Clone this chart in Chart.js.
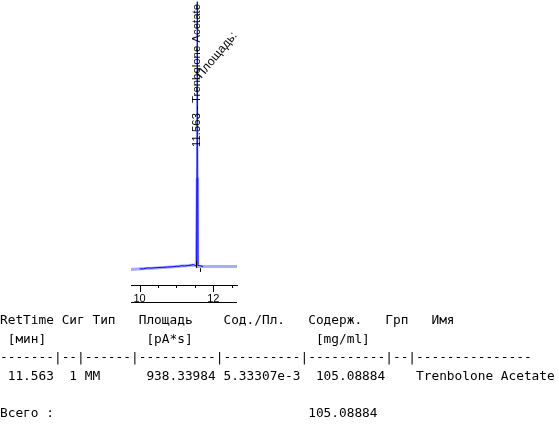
<!DOCTYPE html>
<html><head><meta charset="utf-8">
<script src="https://cdn.jsdelivr.net/npm/chart.js@4"></script>
<style>
html,body{margin:0;padding:0;background:#fff;width:559px;height:425px;overflow:hidden;}
#c{position:absolute;left:0;top:0;}
#tbl{position:absolute;left:0;top:311px;margin:0;font-family:"DejaVu Sans Mono",monospace;font-size:12.8px;line-height:18.6px;color:#000;white-space:pre;}
</style></head><body>
<canvas id="c" width="559" height="425"></canvas>
<pre id="tbl"></pre>
<script>
// ---- axis ----
const xMin = 9.767, xMax = 12.643;
const xTickLabels = ['10', '12'];
const yMin = 0, yMax = 170;

// ---- signal (light trace, full range) ----
const lightTimes  = [9.767, 9.95, 10.15, 10.35, 10.55, 10.75, 10.95, 11.15, 11.35, 11.48, 11.54, 11.553, 11.564, 11.575, 11.6, 11.7, 12.0, 12.3, 12.643];
const lightValues = [9.3,   9.5,  9.8,   10.0,  10.3,  10.6,  10.9,  11.3,  11.6,  11.9,  11.4,  11.4,   64,     11.0,   11.0, 11.0, 11.0, 11.0, 11.0];

// ---- signal (dark trace) ----
const darkTimes  = [10.0, 10.1, 10.15, 10.22, 10.3, 10.45, 10.6, 10.75, 10.9, 11.0, 11.05, 11.15, 11.22, 11.3, 11.4, 11.47, 11.52, 11.548, 11.566, 11.585, 11.63, 11.72];
const darkValues = [9.6,  9.6,  9.9,   10.2,  10.1, 10.3,  10.5, 10.7,  10.9, 11.2, 11.1,  11.5,  11.3,  11.6, 11.9, 12.1,  11.6,  11.6,   169,    11.6,   11.6,  11.0];

// ---- integration baseline & marks ----
const baseTimes  = [11.54, 11.6];
const baseValues = [10.8, 10.8];
const markTimes  = [11.52, 11.64];
const markFrom   = [10.2, 10.0];
const markTo     = [14.3, 7.8];

// ---- peak annotation ----
const peakTime = 11.563;
const peakName = 'Trenbolone Acetate';
const peakLabelAt = 82.3;
const areaLabel = 'Площадь:';
const areaLabelAt = 122.9;

// ---- report table ----
const tableLines = [
  'RetTime Сиг Тип   Площадь    Сод./Пл.   Содерж.   Грп   Имя',
  ' [мин]             [pA*s]                [mg/ml]',
  '-------|--|------|----------|----------|----------|--|---------------',
  ' 11.563  1 MM      938.33984 5.33307e-3  105.08884    Trenbolone Acetate',
  '',
  'Всего :                                 105.08884'
];
document.getElementById('tbl').textContent = tableLines.join('\n');

const pts = (xs, ys) => xs.map((x, i) => ({x: x, y: ys[i]}));

const decor = {
  id: 'decor',
  afterDraw(chart) {
    const ctx = chart.ctx, xs = chart.scales.x, ys = chart.scales.y;
    ctx.save();
    ctx.strokeStyle = '#000'; ctx.lineWidth = 1;
    // tick marks
    xs.ticks.forEach(t => {
      const x = Math.round(xs.getPixelForValue(t.value)) + 0.5;
      const len = (Math.abs(t.value % 2) < 1e-9) ? 7 : 3;
      ctx.beginPath(); ctx.moveTo(x, xs.top); ctx.lineTo(x, xs.top + len); ctx.stroke();
    });
    // lower rule
    ctx.beginPath(); ctx.moveTo(xs.left, xs.bottom - 0.5); ctx.lineTo(xs.right, xs.bottom - 0.5); ctx.stroke();
    // integration marks
    markTimes.forEach((t, i) => {
      const x = Math.round(xs.getPixelForValue(t)) + 0.5;
      ctx.beginPath(); ctx.moveTo(x, ys.getPixelForValue(markFrom[i])); ctx.lineTo(x, ys.getPixelForValue(markTo[i])); ctx.stroke();
    });
    // peak annotations
    ctx.fillStyle = '#000';
    ctx.font = '11.4px "Liberation Sans", Arial, sans-serif';
    const px = xs.getPixelForValue(peakTime);
    ctx.save();
    ctx.translate(px, ys.getPixelForValue(peakLabelAt));
    ctx.rotate(-Math.PI / 2);
    ctx.textAlign = 'left'; ctx.textBaseline = 'middle';
    ctx.fillText(peakTime.toFixed(3) + ' - ' + peakName, 0, 0);
    ctx.restore();
    ctx.save();
    ctx.font = '12.2px "Liberation Sans", Arial, sans-serif';
    ctx.translate(px + 4, ys.getPixelForValue(areaLabelAt));
    ctx.rotate(-50 * Math.PI / 180);
    ctx.textAlign = 'left'; ctx.textBaseline = 'alphabetic';
    ctx.fillText(areaLabel, 0, 0);
    ctx.restore();
    ctx.restore();
  }
};

new Chart(document.getElementById('c'), {
  type: 'line',
  data: {
    datasets: [
      {data: pts(darkTimes, darkValues), borderColor: '#0000ff', borderWidth: 1, pointRadius: 0, tension: 0, order: 1},
      {data: pts(baseTimes, baseValues), borderColor: '#ff80ff', borderWidth: 2, pointRadius: 0, tension: 0, order: 2},
      {data: pts(lightTimes, lightValues), borderColor: '#aaaaff', borderWidth: 3, pointRadius: 0, tension: 0, order: 3}
    ]
  },
  options: {
    responsive: false, animation: false, devicePixelRatio: 1,
    layout: {padding: {left: 131, right: 322, top: 0, bottom: 122}},
    plugins: {legend: {display: false}, tooltip: {enabled: false}},
    scales: {
      x: {
        type: 'linear', min: xMin, max: xMax,
        afterFit(s) { s.height = 18; },
        grid: {display: false, drawTicks: false},
        border: {display: true, color: '#000', width: 1},
        ticks: {
          stepSize: 0.5, includeBounds: false, autoSkip: false, maxRotation: 0, minRotation: 0,
          padding: 7, color: '#000',
          font: {family: '"Liberation Sans", Arial, sans-serif', size: 11},
          callback: (v) => xTickLabels.includes(String(v)) ? String(v) : ''
        }
      },
      y: {display: false, min: yMin, max: yMax}
    }
  },
  plugins: [decor]
});
</script>
</body></html>
